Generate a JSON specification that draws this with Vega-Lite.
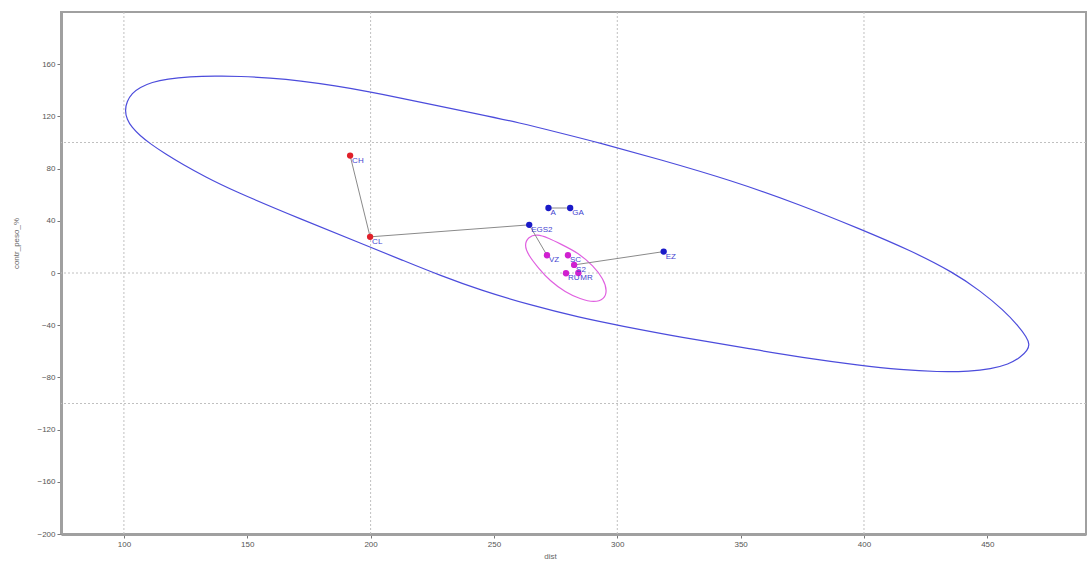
{
  "$schema": "https://vega.github.io/schema/vega-lite/v6.json",
  "width": 1025,
  "height": 522,
  "autosize": {"type": "none"},
  "padding": {"left": 61, "top": 12, "right": 3, "bottom": 29},
  "background": "white",
  "config": {
    "view": {"stroke": "#a0a0a0", "strokeWidth": 2},
    "font": "Liberation Sans Narrow, Liberation Sans, sans-serif",
    "axis": {
      "grid": false,
      "labelFontSize": 8,
      "labelColor": "#555555",
      "tickColor": "#777777",
      "tickSize": 4,
      "domainColor": "#a0a0a0",
      "domainWidth": 3,
      "titleFontSize": 8,
      "titleFontWeight": "normal",
      "titleColor": "#666666"
    }
  },
  "datasets": {
    "ellipses": [
      {"e": "big", "i": 1, "x": 100.41, "y": 124.6},
      {"e": "big", "i": 2, "x": 101.22, "y": 131.5},
      {"e": "big", "i": 3, "x": 103.25, "y": 137.7},
      {"e": "big", "i": 4, "x": 106.49, "y": 142.3},
      {"e": "big", "i": 5, "x": 111.36, "y": 146.2},
      {"e": "big", "i": 6, "x": 117.44, "y": 148.8},
      {"e": "big", "i": 7, "x": 126.77, "y": 150.4},
      {"e": "big", "i": 8, "x": 136.92, "y": 150.9},
      {"e": "big", "i": 9, "x": 147.06, "y": 150.8},
      {"e": "big", "i": 10, "x": 159.23, "y": 149.4},
      {"e": "big", "i": 11, "x": 171.40, "y": 147.3},
      {"e": "big", "i": 12, "x": 185.60, "y": 143.5},
      {"e": "big", "i": 13, "x": 199.80, "y": 138.8},
      {"e": "big", "i": 14, "x": 211.97, "y": 134.2},
      {"e": "big", "i": 15, "x": 225.35, "y": 128.8},
      {"e": "big", "i": 16, "x": 242.39, "y": 122.3},
      {"e": "big", "i": 17, "x": 260.65, "y": 115.0},
      {"e": "big", "i": 18, "x": 276.88, "y": 107.3},
      {"e": "big", "i": 19, "x": 293.10, "y": 99.6},
      {"e": "big", "i": 20, "x": 317.44, "y": 86.9},
      {"e": "big", "i": 21, "x": 345.84, "y": 71.2},
      {"e": "big", "i": 22, "x": 374.24, "y": 52.3},
      {"e": "big", "i": 23, "x": 398.58, "y": 33.6},
      {"e": "big", "i": 24, "x": 418.86, "y": 17.3},
      {"e": "big", "i": 25, "x": 436.31, "y": 0.4},
      {"e": "big", "i": 26, "x": 447.26, "y": -13.8},
      {"e": "big", "i": 27, "x": 456.59, "y": -28.5},
      {"e": "big", "i": 28, "x": 462.68, "y": -40.8},
      {"e": "big", "i": 29, "x": 465.92, "y": -49.2},
      {"e": "big", "i": 30, "x": 467.14, "y": -54.6},
      {"e": "big", "i": 31, "x": 466.33, "y": -59.2},
      {"e": "big", "i": 32, "x": 463.49, "y": -64.6},
      {"e": "big", "i": 33, "x": 458.62, "y": -70.0},
      {"e": "big", "i": 34, "x": 451.32, "y": -73.5},
      {"e": "big", "i": 35, "x": 443.20, "y": -75.4},
      {"e": "big", "i": 36, "x": 429.82, "y": -75.8},
      {"e": "big", "i": 37, "x": 414.81, "y": -74.2},
      {"e": "big", "i": 38, "x": 398.58, "y": -70.8},
      {"e": "big", "i": 39, "x": 374.24, "y": -64.6},
      {"e": "big", "i": 40, "x": 355.17, "y": -58.5},
      {"e": "big", "i": 41, "x": 325.56, "y": -49.2},
      {"e": "big", "i": 42, "x": 301.22, "y": -40.4},
      {"e": "big", "i": 43, "x": 284.99, "y": -34.2},
      {"e": "big", "i": 44, "x": 264.71, "y": -24.6},
      {"e": "big", "i": 45, "x": 244.42, "y": -13.1},
      {"e": "big", "i": 46, "x": 228.19, "y": -1.9},
      {"e": "big", "i": 47, "x": 213.18, "y": 9.6},
      {"e": "big", "i": 48, "x": 198.58, "y": 20.8},
      {"e": "big", "i": 49, "x": 171.40, "y": 41.5},
      {"e": "big", "i": 50, "x": 144.22, "y": 63.1},
      {"e": "big", "i": 51, "x": 132.86, "y": 73.8},
      {"e": "big", "i": 52, "x": 123.94, "y": 83.1},
      {"e": "big", "i": 53, "x": 116.63, "y": 91.5},
      {"e": "big", "i": 54, "x": 110.55, "y": 99.2},
      {"e": "big", "i": 55, "x": 106.49, "y": 105.4},
      {"e": "big", "i": 56, "x": 103.25, "y": 111.5},
      {"e": "big", "i": 57, "x": 101.22, "y": 117.7},
      {"e": "small", "i": 1, "x": 267.4, "y": 29.8},
      {"e": "small", "i": 2, "x": 272.0, "y": 26.9},
      {"e": "small", "i": 3, "x": 276.9, "y": 22.3},
      {"e": "small", "i": 4, "x": 284.2, "y": 15.4},
      {"e": "small", "i": 5, "x": 290.3, "y": 5.4},
      {"e": "small", "i": 6, "x": 294.4, "y": -4.6},
      {"e": "small", "i": 7, "x": 295.9, "y": -13.8},
      {"e": "small", "i": 8, "x": 294.7, "y": -20.0},
      {"e": "small", "i": 9, "x": 290.7, "y": -22.7},
      {"e": "small", "i": 10, "x": 285.0, "y": -20.0},
      {"e": "small", "i": 11, "x": 278.9, "y": -14.6},
      {"e": "small", "i": 12, "x": 272.8, "y": -6.2},
      {"e": "small", "i": 13, "x": 268.0, "y": 3.8},
      {"e": "small", "i": 14, "x": 263.9, "y": 13.8},
      {"e": "small", "i": 15, "x": 262.3, "y": 21.5},
      {"e": "small", "i": 16, "x": 263.9, "y": 27.7}
    ],
    "edges": [
      {"edge": 1, "k": 1, "x": 191.7, "y": 90.0},
      {"edge": 1, "k": 2, "x": 199.8, "y": 27.7},
      {"edge": 2, "k": 1, "x": 199.8, "y": 27.7},
      {"edge": 2, "k": 2, "x": 264.3, "y": 36.9},
      {"edge": 3, "k": 1, "x": 264.3, "y": 36.9},
      {"edge": 3, "k": 2, "x": 271.5, "y": 13.6},
      {"edge": 4, "k": 1, "x": 272.1, "y": 49.8},
      {"edge": 4, "k": 2, "x": 280.9, "y": 49.8},
      {"edge": 5, "k": 1, "x": 318.8, "y": 16.4},
      {"edge": 5, "k": 2, "x": 282.5, "y": 6.2}
    ],
    "points": [
      {"name": "CH", "g": "r", "x": 191.7, "y": 90.0},
      {"name": "CL", "g": "r", "x": 199.8, "y": 27.7},
      {"name": "EGS2", "g": "b", "x": 264.3, "y": 36.9},
      {"name": "A", "g": "b", "x": 272.1, "y": 49.8},
      {"name": "GA", "g": "b", "x": 280.9, "y": 49.8},
      {"name": "EZ", "g": "b", "x": 318.8, "y": 16.4},
      {"name": "VZ", "g": "m", "x": 271.5, "y": 13.6},
      {"name": "SC", "g": "m", "x": 280.0, "y": 13.6},
      {"name": "S2", "g": "m", "x": 282.5, "y": 6.2},
      {"name": "MR", "g": "m", "x": 284.2, "y": 0.0},
      {"name": "RU", "g": "m", "x": 279.2, "y": -0.2}
    ],
    "gridx": [{"x": 100}, {"x": 200}, {"x": 300}, {"x": 400}],
    "gridy": [{"y": -100}, {"y": 0}, {"y": 100}]
  },
  "layer": [
    {
      "data": {"name": "gridx"},
      "mark": {"type": "rule", "color": "#c0c0c0", "strokeDash": [2, 2], "strokeWidth": 1},
      "encoding": {
        "x": {"field": "x", "type": "quantitative", "scale": {"domain": [74.5, 490], "nice": false, "zero": false},
              "axis": {"values": [100, 150, 200, 250, 300, 350, 400, 450], "title": "dist", "titlePadding": 4, "titleX": 489}}
      }
    },
    {
      "data": {"name": "gridy"},
      "mark": {"type": "rule", "color": "#c0c0c0", "strokeDash": [2, 2], "strokeWidth": 1},
      "encoding": {
        "y": {"field": "y", "type": "quantitative", "scale": {"domain": [-200, 200], "nice": false, "zero": false},
              "axis": {"values": [-200, -160, -120, -80, -40, 0, 40, 80, 120, 160], "title": "contr_peso_%", "titlePadding": 16, "titleY": 231}}
      }
    },
    {
      "data": {"name": "ellipses"},
      "mark": {"type": "line", "interpolate": "basis-closed", "strokeWidth": 1.2},
      "encoding": {
        "x": {"field": "x", "type": "quantitative"},
        "y": {"field": "y", "type": "quantitative"},
        "detail": {"field": "e"},
        "order": {"field": "i", "type": "quantitative"},
        "color": {"field": "e", "type": "nominal", "scale": {"domain": ["big", "small"], "range": ["#4c4cdc", "#e060e0"]}, "legend": null}
      }
    },
    {
      "data": {"name": "edges"},
      "mark": {"type": "line", "color": "#8a8a8a", "strokeWidth": 1},
      "encoding": {
        "x": {"field": "x", "type": "quantitative"},
        "y": {"field": "y", "type": "quantitative"},
        "detail": {"field": "edge"},
        "order": {"field": "k", "type": "quantitative"}
      }
    },
    {
      "data": {"name": "points"},
      "mark": {"type": "circle", "size": 40, "opacity": 1},
      "encoding": {
        "x": {"field": "x", "type": "quantitative"},
        "y": {"field": "y", "type": "quantitative"},
        "fill": {"field": "g", "type": "nominal", "scale": {"domain": ["r", "b", "m"], "range": ["#e0202a", "#1a1ac8", "#d020d0"]}, "legend": null}
      }
    },
    {
      "data": {"name": "points"},
      "mark": {"type": "text", "align": "left", "baseline": "top", "dx": 2, "dy": 1, "fontSize": 8, "color": "#4444d0"},
      "encoding": {
        "x": {"field": "x", "type": "quantitative"},
        "y": {"field": "y", "type": "quantitative"},
        "text": {"field": "name"}
      }
    }
  ]
}
